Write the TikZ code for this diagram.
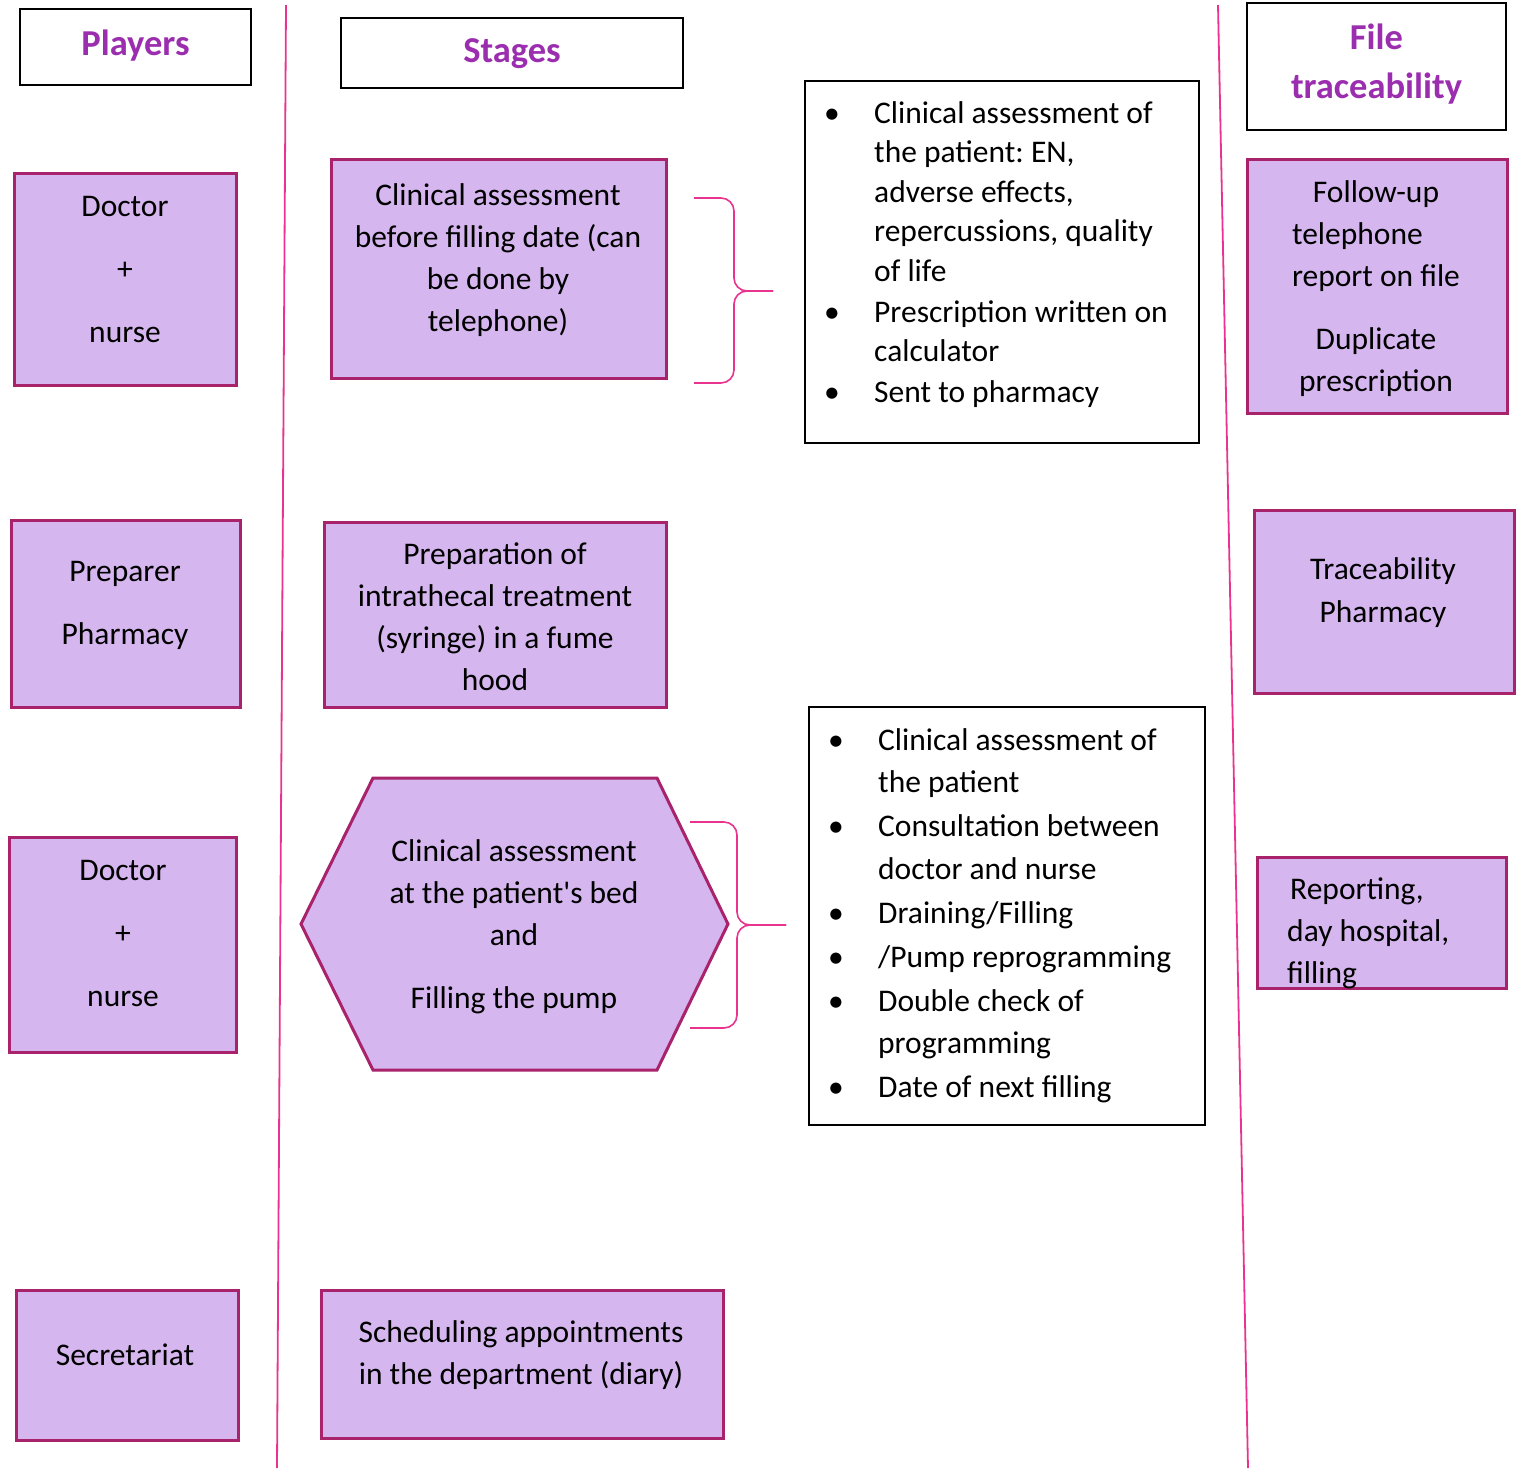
\documentclass[tikz,border=0pt]{standalone}
\usepackage{fontspec}
\setmainfont{Carlito}[Ligatures=TeXOff]
\usetikzlibrary{positioning}
\frenchspacing

\definecolor{lilac}{RGB}{213,182,238}
\definecolor{plum}{RGB}{168,34,108}
\definecolor{headpurple}{RGB}{155,45,175}
\definecolor{rulepink}{RGB}{232,52,142}

\newcommand{\bodyfont}{\fontsize{31.5}{42}\selectfont}
\newcommand{\bul}{\makebox[50pt][l]{\textbullet}}
\newcommand{\ind}{\hspace*{50pt}}

\begin{document}
\begin{tikzpicture}[
    x=1pt, y=-1pt,
    font=\bodyfont,
    head/.style  = {draw=black, line width=1.5pt, text=headpurple, align=center,
                    font=\fontsize{36.5}{49}\selectfont\bfseries},
    pbox/.style  = {draw=plum, line width=3pt, fill=lilac},
    txt/.style   = {align=center, inner sep=0pt},
    lbox/.style  = {draw=black, line width=1.5pt},
    ltxt/.style  = {align=left, inner sep=0pt, anchor=north west},
    sep/.style   = {draw=rulepink, line width=1.8pt},
    brace/.style = {draw=rulepink, line width=1.6pt, rounded corners=13pt}
  ]
  \useasboundingbox (0,0) rectangle (1521,1468);

  % --- column separators ---
  \coordinate (s1top) at (286,5);
  \coordinate (s1bot) at (277,1468);
  \coordinate (s2top) at (1218,5);
  \coordinate (s2bot) at (1248,1468);
  \draw[sep] (s1top) -- (s1bot);
  \draw[sep] (s2top) -- (s2bot);

  % --- headers ---
  \node[head, minimum width=231, minimum height=76]  (players) at (135.5,47) {};
  \node[txt, text=headpurple, font=\fontsize{36.5}{49}\selectfont\bfseries] (players-t) at (135.5,46) {Players};
  \node[head, minimum width=342, minimum height=70]  (stages)  at (512,53) {};
  \node[txt, text=headpurple, font=\fontsize{36.5}{49}\selectfont\bfseries] (stages-t) at (512,54) {Stages};
  \node[head, minimum width=259, minimum height=127] (files)   at (1376.5,66.5) {};
  \node[txt, text=headpurple, font=\fontsize{36.5}{49}\selectfont\bfseries] (files-t) at (1376.5,64) {File\\traceability};

  % --- players ---
  \node[pbox, minimum width=222, minimum height=212] (doc1) at (125,279) {};
  \node[txt, font=\fontsize{31.5}{63}\selectfont] (doc1-t) at (125,270) {Doctor\\+\\nurse};

  \node[pbox, minimum width=229, minimum height=187] (prep) at (125.5,613.5) {};
  \node[txt, font=\fontsize{31.5}{63}\selectfont] (prep-t) at (125,605) {Preparer\\Pharmacy};

  \node[pbox, minimum width=227, minimum height=215] (doc2) at (122.5,944.5) {};
  \node[txt, font=\fontsize{31.5}{63}\selectfont] (doc2-t) at (123,933) {Doctor\\+\\nurse};

  \node[pbox, minimum width=222, minimum height=150] (secr) at (127,1365) {};
  \node[txt] (secr-t) at (125,1355) {Secretariat};

  % --- stages ---
  \node[pbox, minimum width=335, minimum height=219] (assess) at (498.5,268.5) {};
  \node[txt] (assess-t) at (498,260)
    {Clinical assessment\\before filling date (can\\be done by\\telephone)};

  \node[pbox, minimum width=342, minimum height=185] (prepare) at (495,614.5) {};
  \node[txt] (prepare-t) at (495,617)
    {Preparation of\\intrathecal treatment\\(syringe) in a fume\\hood};

  \coordinate (hx1) at (373,778);
  \coordinate (hx2) at (657,778);
  \coordinate (hx3) at (728,924);
  \coordinate (hx4) at (657,1070);
  \coordinate (hx5) at (373,1070);
  \coordinate (hx6) at (301,924);
  \draw[pbox] (hx1) -- (hx2) -- (hx3) -- (hx4) -- (hx5) -- (hx6) -- cycle;
  \node[txt] (fill-t) at (514,927)
    {Clinical assessment\\at the patient's bed\\and\\[21pt]Filling the pump};

  \node[pbox, minimum width=402, minimum height=148] (sched) at (522,1364) {};
  \node[txt] (sched-t) at (521,1355)
    {Scheduling appointments\\in the department (diary)};

  % --- braces ---
  \coordinate (b1top) at (694,198);
  \coordinate (b1bot) at (694,383);
  \coordinate (b1tip) at (773,291);
  \draw[brace] (b1top) -- (734,198) -- (734,291) -- (b1tip);
  \draw[brace] (b1tip) -- (734,291) -- (734,383) -- (b1bot);

  \coordinate (b2top) at (690,822);
  \coordinate (b2bot) at (690,1028);
  \coordinate (b2tip) at (786,925);
  \draw[brace] (b2top) -- (737,822) -- (737,925) -- (b2tip);
  \draw[brace] (b2tip) -- (737,925) -- (737,1028) -- (b2bot);

  % --- detail lists ---
  \node[lbox, minimum width=394, minimum height=362] (list1) at (1002,262) {};
  \node[ltxt, font=\fontsize{31.5}{39.5}\selectfont] (list1-t) at (824,101)
    {\bul Clinical assessment of\\
     \ind the patient: EN,\\
     \ind adverse effects,\\
     \ind repercussions, quality\\
     \ind of life\\[1.5pt]
     \bul Prescription written on\\
     \ind calculator\\[1.5pt]
     \bul Sent to pharmacy};

  \node[lbox, minimum width=396, minimum height=418] (list2) at (1007,916) {};
  \node[ltxt, font=\fontsize{31.5}{42.5}\selectfont] (list2-t) at (828,728)
    {\bul Clinical assessment of\\
     \ind the patient\\[1.5pt]
     \bul Consultation between\\
     \ind doctor and nurse\\[1.5pt]
     \bul Draining/Filling\\[1.5pt]
     \bul /Pump reprogramming\\[1.5pt]
     \bul Double check of\\
     \ind programming\\[1pt]
     \bul Date of next filling};

  % --- file traceability ---
  \node[pbox, minimum width=260, minimum height=254] (follow) at (1377,286) {};
  \node[txt] (follow-t) at (1376,288.5)
    {Follow-up\\
     \rlap{telephone}\phantom{report on file}\\
     report on file\\[21pt]
     Duplicate\\
     prescription};

  \node[pbox, minimum width=260, minimum height=183] (trace) at (1384,601.5) {};
  \node[txt, font=\fontsize{31.5}{43}\selectfont] (trace-t) at (1383,592.5)
    {Traceability\\Pharmacy};

  \node[pbox, minimum width=249, minimum height=131] (report) at (1381.5,922.5) {};
  \node[txt, align=left, anchor=west] (report-t) at (1287,933)
    {\hspace*{3pt}Reporting,\\day hospital,\\filling};

\end{tikzpicture}
\end{document}
